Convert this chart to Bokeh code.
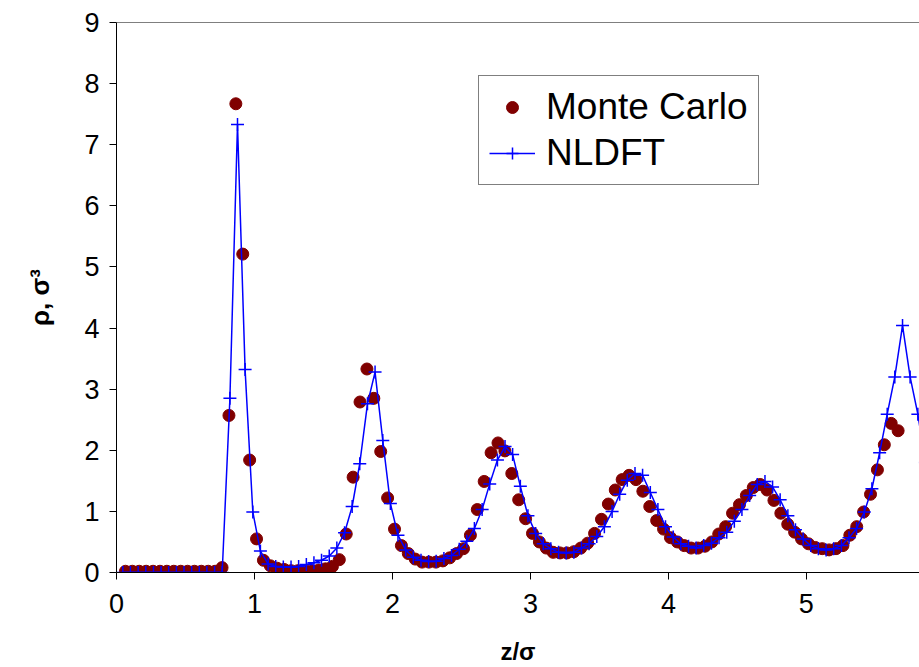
from bokeh.plotting import figure
from bokeh.models import Range1d, Span, FixedTicker
from bokeh.embed import file_html
from bokeh.resources import INLINE

# Monte Carlo density profile
mc_z = [0.065, 0.115, 0.165, 0.215, 0.265, 0.315, 0.365, 0.415, 0.465, 0.515,
        0.565, 0.615, 0.665, 0.715, 0.765, 0.815, 0.865, 0.915, 0.965, 1.015,
        1.065, 1.115, 1.165, 1.215, 1.265, 1.315, 1.365, 1.415, 1.465, 1.515,
        1.565, 1.615, 1.665, 1.715, 1.765, 1.815, 1.865, 1.915, 1.965, 2.015,
        2.065, 2.115, 2.165, 2.215, 2.265, 2.315, 2.365, 2.415, 2.465, 2.515,
        2.565, 2.615, 2.665, 2.715, 2.765, 2.815, 2.865, 2.915, 2.965, 3.015,
        3.065, 3.115, 3.165, 3.215, 3.265, 3.315, 3.365, 3.415, 3.465, 3.515,
        3.565, 3.615, 3.665, 3.715, 3.765, 3.815, 3.865, 3.915, 3.965, 4.015,
        4.065, 4.115, 4.165, 4.215, 4.265, 4.315, 4.365, 4.415, 4.465, 4.515,
        4.565, 4.615, 4.665, 4.715, 4.765, 4.815, 4.865, 4.915, 4.965, 5.015,
        5.065, 5.115, 5.165, 5.215, 5.265, 5.315, 5.365, 5.415, 5.465, 5.515,
        5.565, 5.615, 5.665]
mc_rho = [0.02, 0.02, 0.02, 0.02, 0.02, 0.02, 0.02, 0.02, 0.02, 0.02,
          0.02, 0.02, 0.02, 0.02, 0.08, 2.57, 7.67, 5.21, 1.84, 0.55,
          0.20, 0.11, 0.07, 0.05, 0.03, 0.03, 0.03, 0.03, 0.04, 0.06,
          0.10, 0.21, 0.63, 1.56, 2.79, 3.33, 2.85, 1.98, 1.22, 0.71,
          0.44, 0.31, 0.22, 0.17, 0.17, 0.17, 0.19, 0.24, 0.31, 0.39,
          0.61, 1.03, 1.49, 1.96, 2.12, 1.99, 1.62, 1.19, 0.88, 0.64,
          0.50, 0.40, 0.33, 0.32, 0.32, 0.34, 0.40, 0.48, 0.64, 0.87,
          1.12, 1.35, 1.52, 1.59, 1.52, 1.33, 1.08, 0.85, 0.71, 0.57,
          0.50, 0.44, 0.40, 0.40, 0.43, 0.50, 0.63, 0.75, 0.97, 1.11,
          1.26, 1.39, 1.44, 1.35, 1.18, 0.97, 0.79, 0.66, 0.55, 0.47,
          0.41, 0.39, 0.37, 0.39, 0.44, 0.61, 0.75, 0.99, 1.28, 1.68,
          2.09, 2.44, 2.32]

# NLDFT density profile
nldft_z = [0.046, 0.101, 0.157, 0.212, 0.268, 0.323, 0.378, 0.434, 0.489, 0.545,
           0.600, 0.655, 0.711, 0.766, 0.822, 0.877, 0.932, 0.988, 1.043, 1.099,
           1.154, 1.209, 1.265, 1.320, 1.376, 1.431, 1.486, 1.542, 1.597, 1.653,
           1.708, 1.763, 1.819, 1.874, 1.930, 1.985, 2.040, 2.096, 2.151, 2.207,
           2.262, 2.317, 2.373, 2.428, 2.484, 2.539, 2.594, 2.650, 2.705, 2.761,
           2.816, 2.871, 2.927, 2.982, 3.038, 3.093, 3.148, 3.204, 3.259, 3.315,
           3.370, 3.425, 3.481, 3.536, 3.592, 3.647, 3.702, 3.758, 3.813, 3.869,
           3.924, 3.979, 4.035, 4.090, 4.146, 4.201, 4.256, 4.312, 4.367, 4.423,
           4.478, 4.533, 4.589, 4.644, 4.700, 4.755, 4.810, 4.866, 4.921, 4.977,
           5.032, 5.087, 5.143, 5.198, 5.254, 5.309, 5.364, 5.420, 5.475, 5.531,
           5.586, 5.641, 5.697, 5.752, 5.808, 5.863]
nldft_rho = [0.0, 0.0, 0.0, 0.0, 0.0, 0.0, 0.0, 0.0, 0.0, 0.0,
             0.0, 0.0, 0.0, 0.0, 2.85, 7.33, 3.32, 0.99, 0.35, 0.14,
             0.10, 0.09, 0.09, 0.10, 0.13, 0.16, 0.20, 0.27, 0.40, 0.65,
             1.08, 1.78, 2.76, 3.28, 2.16, 1.13, 0.61, 0.37, 0.25, 0.20,
             0.18, 0.185, 0.23, 0.28, 0.38, 0.51, 0.72, 1.03, 1.45, 1.84,
             2.06, 1.93, 1.41, 0.93, 0.64, 0.47, 0.39, 0.33, 0.32, 0.33,
             0.40, 0.47, 0.59, 0.75, 1.00, 1.28, 1.51, 1.62, 1.59, 1.31,
             1.03, 0.75, 0.58, 0.47, 0.43, 0.40, 0.44, 0.48, 0.57, 0.66,
             0.84, 1.03, 1.26, 1.44, 1.49, 1.40, 1.19, 0.93, 0.70, 0.55,
             0.44, 0.39, 0.37, 0.39, 0.44, 0.57, 0.72, 0.99, 1.37, 1.96,
             2.59, 3.20, 4.04, 3.20, 2.59, 1.80]

x_ticks = [0, 1, 2, 3, 4, 5]
y_ticks = [0, 1, 2, 3, 4, 5, 6, 7, 8, 9]

FONT = "Liberation Sans"

p = figure(width=919, height=667, output_backend="svg", toolbar_location=None,
           x_range=Range1d(0, 5.82), y_range=Range1d(0, 9),
           min_border_left=116, min_border_right=0, min_border_top=22,
           min_border_bottom=95)
p.outline_line_color = None
p.grid.visible = False
p.background_fill_color = "white"
p.border_fill_color = "white"

p.scatter(mc_z, mc_rho, marker="circle", size=12, fill_color="#800000",
          line_color="#800000", legend_label="Monte Carlo")
p.line(nldft_z, nldft_rho, line_color="#0000FF", line_width=1.5,
       legend_label="NLDFT")
p.scatter(nldft_z, nldft_rho, marker="cross", size=13, line_color="#0000FF",
          line_width=1.5, legend_label="NLDFT")

p.add_layout(Span(location=9, dimension="width", line_color="black", line_width=1))

for ax in (p.xaxis[0], p.yaxis[0]):
    ax.axis_line_color = "black"
    ax.axis_line_width = 1
    ax.major_tick_line_color = "black"
    ax.major_tick_in = 0
    ax.major_tick_out = 7
    ax.minor_tick_line_color = None
    ax.major_label_text_font = FONT
    ax.major_label_text_font_size = "27px"
    ax.major_label_text_color = "black"
    ax.axis_label_text_font = FONT
    ax.axis_label_text_font_style = "bold"
    ax.axis_label_text_color = "black"

p.xaxis.ticker = FixedTicker(ticks=x_ticks)
p.yaxis.ticker = FixedTicker(ticks=y_ticks)
p.xaxis.axis_label = "z/σ"
p.yaxis.axis_label = "ρ, σ³"
p.xaxis.axis_label_text_font_size = "24px"
p.yaxis.axis_label_text_font_size = "26px"
p.xaxis.major_label_standoff = 14
p.yaxis.major_label_standoff = 10
p.xaxis.axis_label_standoff = 22
p.yaxis.axis_label_standoff = 26

lg = p.legend[0]
lg.location = (362, 387)
lg.margin = 0
lg.padding = 10
lg.spacing = 4
lg.glyph_width = 46
lg.glyph_height = 30
lg.label_standoff = 11
lg.label_text_font = FONT
lg.label_text_font_size = "37px"
lg.label_text_color = "black"
lg.border_line_color = "black"
lg.border_line_width = 1
lg.background_fill_color = "white"
lg.background_fill_alpha = 1.0

open("out.html", "w").write(file_html(p, INLINE))
